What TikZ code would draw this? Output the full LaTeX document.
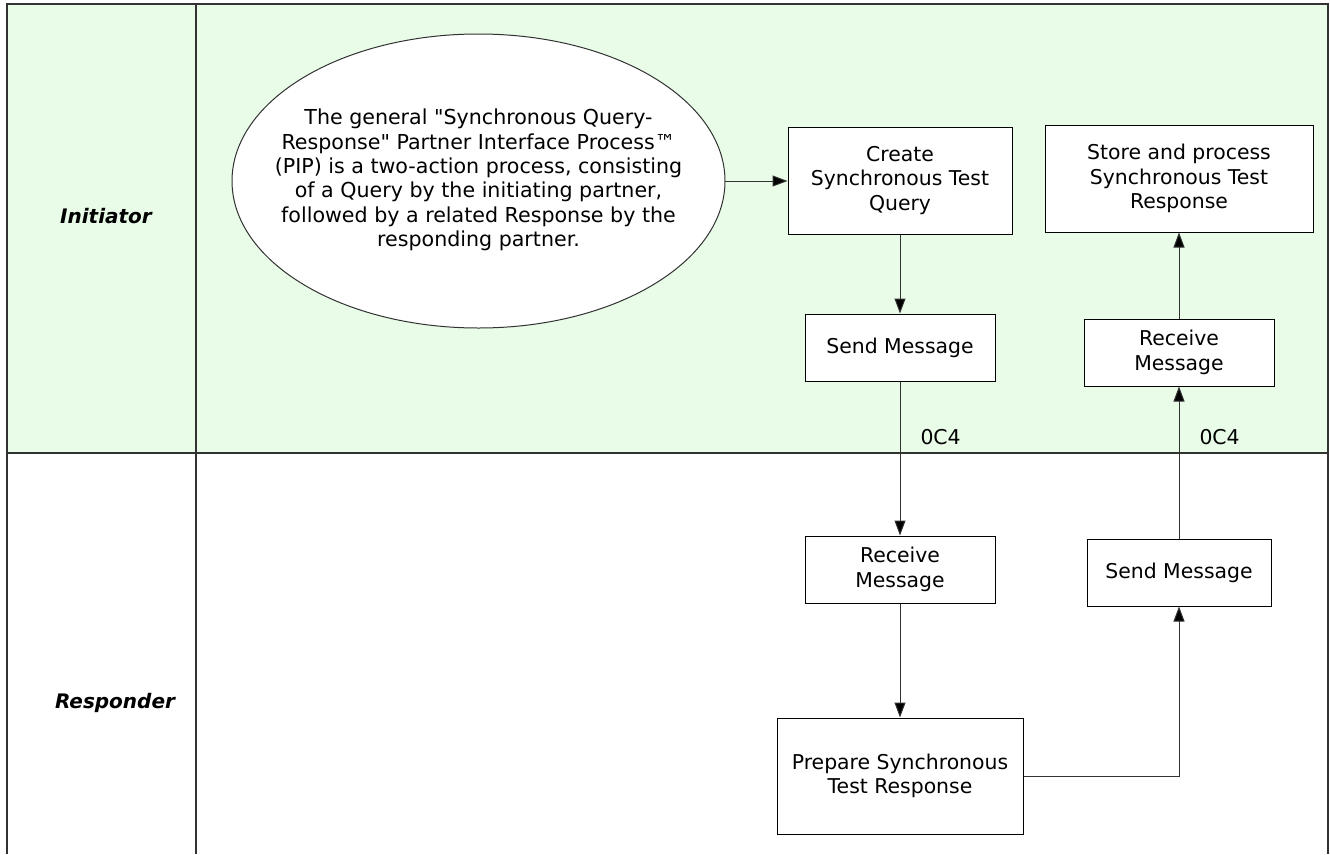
\documentclass[tikz,border=0pt]{standalone}
\usepackage{fontspec}
\newfontfamily\vfont{DejaVu Sans}
\usetikzlibrary{arrows.meta,shapes.geometric}
\definecolor{lanegreen}{RGB}{232,252,232}
\definecolor{linegray}{RGB}{50,50,50}
\tikzset{
  procbox/.style={draw=black, line width=1pt, fill=white, rectangle, inner sep=0pt, align=center,
    font=\vfont\fontsize{20.4}{24.5}\selectfont},
  lanelabel/.style={font=\vfont\fontsize{20}{24}\selectfont\bfseries\itshape, inner sep=0pt},
  conn/.style={draw=linegray, line width=1pt, -{Triangle[length=15pt,width=11pt,fill=black]}},
  msglabel/.style={font=\vfont\fontsize{20.4}{24}\selectfont, inner sep=0pt, anchor=west, xshift=20pt},
  frame/.style={draw=linegray, line width=1.2pt}
}
\begin{document}
\begin{tikzpicture}[x=1pt, y=-1pt, font=\vfont]
\useasboundingbox (0,0) rectangle (1330,854);
% lanes
\fill[lanegreen] (7,4) rectangle (1328,453);
\draw[frame] (7,854) -- (7,4) -- (1328,4) -- (1328,854);
\draw[frame] (7,453) -- (1328,453);
\draw[frame] (196,4) -- (196,854);
\node[lanelabel] (lini) at (106,216) {Initiator};
\node[lanelabel] (lresp) at (115,703) {Responder};
% ellipse
\draw[linegray, line width=1pt, fill=white] (478.5,181) ellipse [x radius=246.5, y radius=147];
\coordinate (ellE) at (725,181);
\node[inner sep=0pt, align=center, font=\vfont\fontsize{20.6}{24.4}\selectfont] (ell) at (478.5,180)
 {The general "Synchronous Query-\\Response" Partner Interface Process™\\(PIP) is a two-action process, consisting\\of a Query by the initiating partner,\\followed by a related Response by the\\responding partner.};
% boxes
\node[procbox, minimum width=224pt, minimum height=107pt] (create) at (900,180.5) {Create\\Synchronous Test\\Query};
\node[procbox, minimum width=190pt, minimum height=67pt] (send1) at (900,347.5) {Send Message};
\node[procbox, minimum width=268pt, minimum height=107pt] (store) at (1179,178.5) {Store and process\\Synchronous Test\\Response};
\node[procbox, minimum width=190pt, minimum height=67pt] (recv1) at (1179,352.5) {Receive\\Message};
\node[procbox, minimum width=190pt, minimum height=67pt] (recv2) at (900,569.5) {Receive\\Message};
\node[procbox, minimum width=246pt, minimum height=116pt] (prep) at (900,776) {Prepare Synchronous\\Test Response};
\node[procbox, minimum width=184pt, minimum height=67pt] (send2) at (1179,572.5) {Send Message};
% connectors
\draw[conn] (ellE) -- (create.west |- ellE);
\draw[conn] (create.south) -- (send1.north);
\draw[conn] (send1.south) -- node[msglabel, pos=0.36] (lab1) {0C4} (recv2.north);
\draw[conn] (recv2.south) -- (prep.north);
\draw[conn] (prep.east) -| (send2.south);
\draw[conn] (send2.north) -- node[msglabel, pos=0.667] (lab2) {0C4} (recv1.south);
\draw[conn] (recv1.north) -- (store.south);
\end{tikzpicture}
\end{document}
